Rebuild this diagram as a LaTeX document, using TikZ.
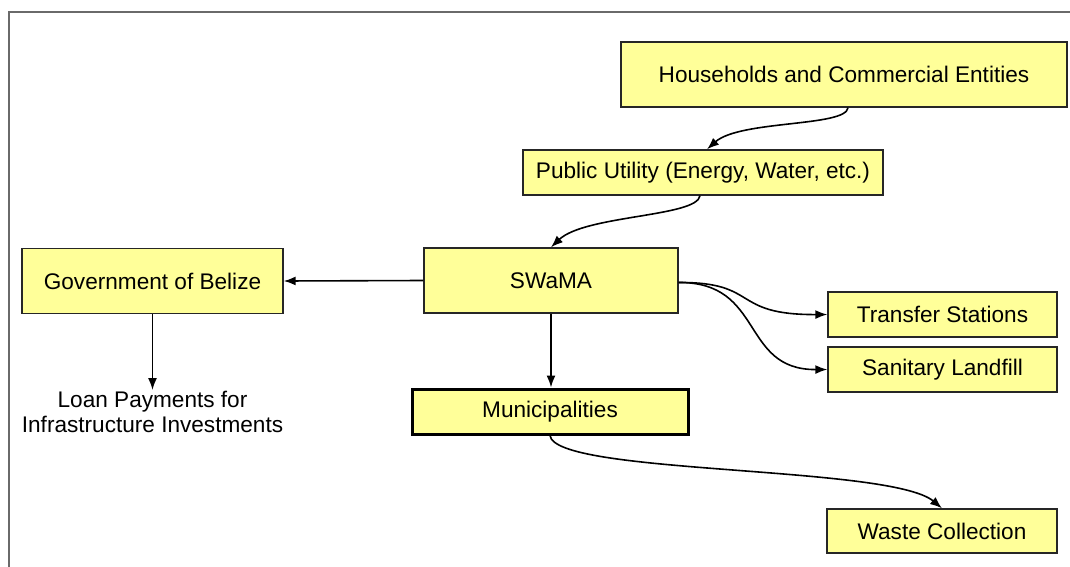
\documentclass[tikz,border=0pt]{standalone}
\usepackage{fontspec}
\setmainfont{Liberation Sans}
\usetikzlibrary{arrows.meta}
\definecolor{boxfill}{HTML}{FFFF99}
\definecolor{framegray}{HTML}{6A6A6A}
\begin{document}
\begin{tikzpicture}[x=1pt,y=-1pt,
  every node/.style={font=\fontsize{22.6}{25}\selectfont},
  box/.style={draw=black!85, line width=1.4pt, fill=boxfill, inner sep=0pt, align=center},
  thickbox/.style={box, draw=black, line width=3pt},
  arr/.style={-{Latex[length=12pt,width=9pt]}, line width=1.6pt, black}]
\useasboundingbox (0,0) rectangle (1070,567);
\draw[framegray, line width=2pt] (9,567) -- (9,12) -- (1070,12);

\node[box, minimum width=446pt, minimum height=65pt] (hh) at (844,74.5) {Households and Commercial Entities};
\node[box, minimum width=360pt, minimum height=45pt] (pu) at (703,172.5) {Public Utility (Energy, Water, etc.)};
\node[box, minimum width=254pt, minimum height=65pt] (sw) at (551,280.5) {SWaMA};
\node[box, minimum width=261pt, minimum height=65pt] (gov) at (152.5,281) {Government of Belize};
\node[box, minimum width=229pt, minimum height=45pt] (ts) at (942.5,314.5) {Transfer Stations};
\node[box, minimum width=229pt, minimum height=45pt] (sl) at (942.5,369.5) {Sanitary Landfill};
\node[thickbox, minimum width=276pt, minimum height=45pt] (mu) at (550,411.5) {Municipalities};
\node[box, minimum width=230pt, minimum height=44pt] (wc) at (942,531) {Waste Collection};
\node[inner sep=1pt, align=center, anchor=north] (loan) at (152.5,390) {Loan Payments for\\Infrastructure Investments};

\draw[arr] ([xshift=4pt]hh.south) .. controls (846,127) and (740,120) .. ([xshift=4pt]pu.north);
\draw[arr] ([xshift=-3pt]pu.south) .. controls (697,217) and (585,215) .. (sw.north);
\draw[arr] (sw.west) -- (gov.east);
\draw[arr] (gov.south) -- (gov.south |- loan.north);
\draw[arr] (sw.south) -- (sw.south |- mu.north);
\draw[arr] ([yshift=-2pt]sw.east) .. controls (760,282) and (730,315) .. (ts.west);
\draw[arr] ([yshift=-2pt]sw.east) .. controls (765,282) and (740,370) .. (sl.west);
\draw[arr] (mu.south) .. controls (555,475) and (890,465) .. (wc.north);
\end{tikzpicture}
\end{document}
